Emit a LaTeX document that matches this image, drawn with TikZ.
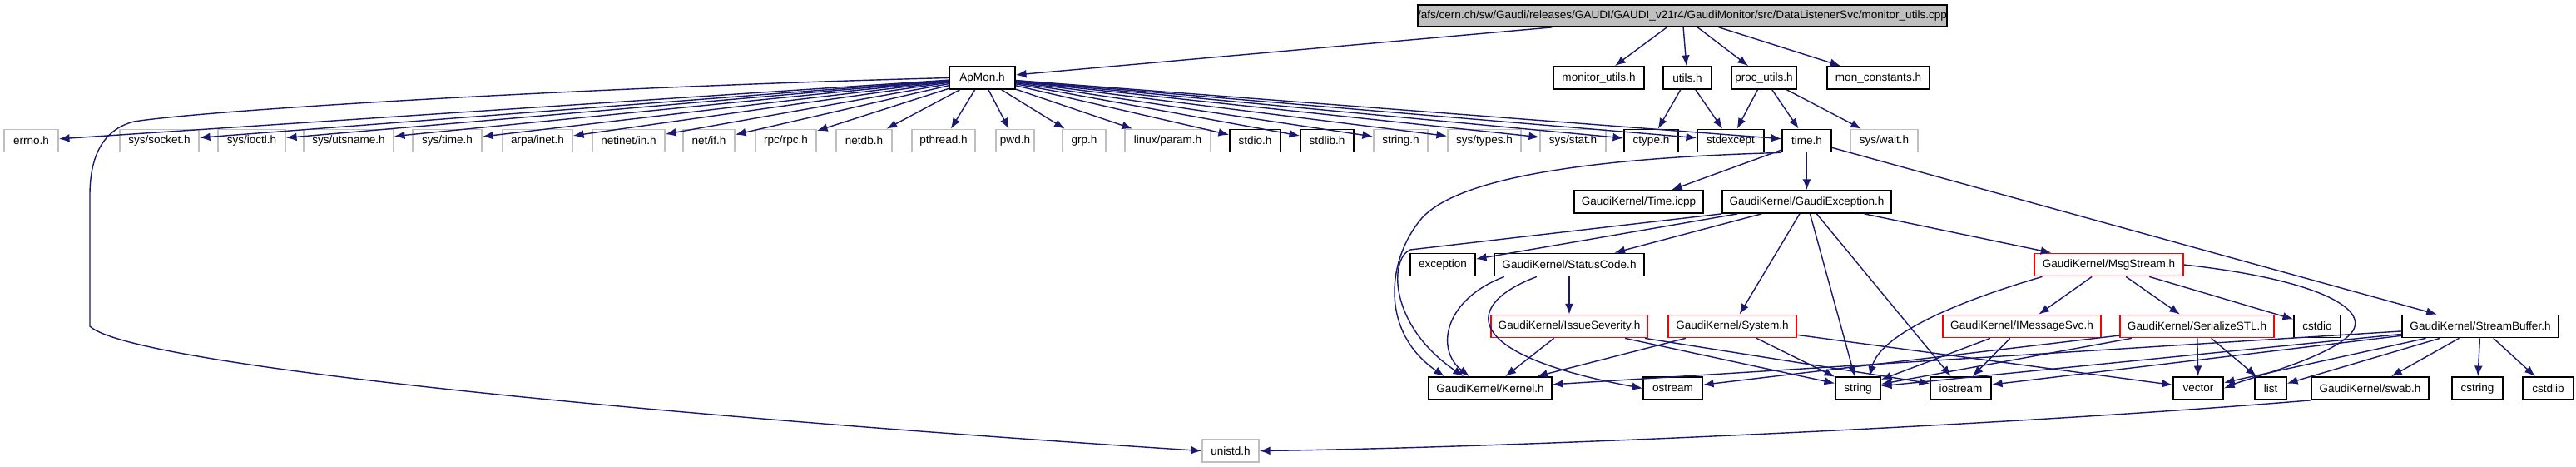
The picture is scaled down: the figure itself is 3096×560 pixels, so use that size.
\documentclass[tikz,border=0pt]{standalone}
\usepackage{fontspec}
\setmainfont{Liberation Sans}
\usetikzlibrary{arrows.meta}
\definecolor{edgeblue}{RGB}{25,25,112}
\definecolor{sysgray}{RGB}{191,191,191}

\tikzset{
  hdr/.style={draw=black, fill=white, line width=0.5pt, minimum height=0.27cm, inner sep=0pt,
    font=\fontsize{3.85}{4.6}\selectfont},
  syshdr/.style={hdr, draw=sysgray},
  trunc/.style={hdr, draw=red},
  rootfile/.style={hdr, fill=sysgray},
  dep/.style={edgeblue, line width=0.4pt, -{Latex[length=3.6pt, width=2.8pt]}},
}

\begin{document}
\begin{tikzpicture}[x=0.01cm, y=-0.01cm]
  \useasboundingbox (0,0) rectangle (3096,560);
  % the file itself
  \node[rootfile, minimum width=6.36cm, minimum height=0.26cm] (root) at (2022,19) {/afs/cern.ch/sw/Gaudi/releases/GAUDI/GAUDI\_v21r4/GaudiMonitor/src/DataListenerSvc/monitor\_utils.cpp};
  % direct includes
  \node[hdr, minimum width=0.79cm] (apmon) at (1180.5,93.5) {ApMon.h};
  \node[hdr, minimum width=1.09cm] (monutils) at (1921.5,93.5) {monitor\_utils.h};
  \node[hdr, minimum width=0.58cm] (utils) at (2028,93.5) {utils.h};
  \node[hdr, minimum width=0.78cm] (procutils) at (2120,93.5) {proc\_utils.h};
  \node[hdr, minimum width=1.23cm] (monconst) at (2257.5,93.5) {mon\_constants.h};
  % system headers
  \node[syshdr, minimum width=0.65cm] (errno) at (37.5,169) {errno.h};
  \node[syshdr, minimum width=0.95cm] (syssocket) at (191.5,169) {sys/socket.h};
  \node[syshdr, minimum width=0.81cm] (sysioctl) at (302.5,169) {sys/ioctl.h};
  \node[syshdr, minimum width=1.08cm] (sysutsname) at (419,169) {sys/utsname.h};
  \node[syshdr, minimum width=0.83cm] (systime) at (537.5,169) {sys/time.h};
  \node[syshdr, minimum width=0.84cm] (arpainet) at (646,169) {arpa/inet.h};
  \node[syshdr, minimum width=0.87cm] (netinetin) at (755.5,169) {netinet/in.h};
  \node[syshdr, minimum width=0.62cm] (netif) at (852,169) {net/if.h};
  \node[syshdr, minimum width=0.73cm] (rpcrpc) at (944.5,169) {rpc/rpc.h};
  \node[syshdr, minimum width=0.67cm] (netdb) at (1038.5,169) {netdb.h};
  \node[syshdr, minimum width=0.76cm] (pthread) at (1134,169) {pthread.h};
  \node[syshdr, minimum width=0.46cm] (pwd) at (1220,169) {pwd.h};
  \node[syshdr, minimum width=0.52cm] (grp) at (1303,169) {grp.h};
  \node[syshdr, minimum width=1.03cm] (linuxparam) at (1403.5,169) {linux/param.h};
  \node[hdr, minimum width=0.61cm] (stdio) at (1508.5,169) {stdio.h};
  \node[hdr, minimum width=0.64cm] (stdlib) at (1595,169) {stdlib.h};
  \node[syshdr, minimum width=0.65cm] (stringh) at (1683.5,169) {string.h};
  \node[syshdr, minimum width=0.88cm] (systypes) at (1784,169) {sys/types.h};
  \node[syshdr, minimum width=0.79cm] (sysstat) at (1890.5,169) {sys/stat.h};
  \node[hdr, minimum width=0.65cm] (ctype) at (1984.5,169) {ctype.h};
  \node[hdr, minimum width=0.80cm] (stdexcept) at (2080,169) {stdexcept};
  \node[hdr, minimum width=0.59cm] (timeh) at (2171.5,169) {time.h};
  \node[syshdr, minimum width=0.81cm] (syswait) at (2264.5,169) {sys/wait.h};
  % GaudiKernel
  \node[hdr, minimum width=1.55cm] (timeicpp) at (1969.5,242.5) {GaudiKernel/Time.icpp};
  \node[hdr, minimum width=2.03cm] (gexc) at (2171.5,242.5) {GaudiKernel/GaudiException.h};
  \node[hdr, minimum width=0.78cm] (exception) at (1734,318) {exception};
  \node[hdr, minimum width=1.80cm] (statuscode) at (1886,318) {GaudiKernel/StatusCode.h};
  \node[trunc, minimum width=1.79cm] (msgstream) at (2534.5,318) {GaudiKernel/MsgStream.h};
  \node[trunc, minimum width=1.88cm] (issuesev) at (1886,392) {GaudiKernel/IssueSeverity.h};
  \node[trunc, minimum width=1.54cm] (system) at (2082,392) {GaudiKernel/System.h};
  \node[trunc, minimum width=1.90cm] (imsgsvc) at (2430,392) {GaudiKernel/IMessageSvc.h};
  \node[trunc, minimum width=1.85cm] (serstl) at (2640.5,392) {GaudiKernel/SerializeSTL.h};
  \node[hdr, minimum width=0.56cm] (cstdio) at (2785,392) {cstdio};
  \node[hdr, minimum width=1.88cm] (sbuf) at (2981,392) {GaudiKernel/StreamBuffer.h};
  \node[hdr, minimum width=1.48cm] (kernel) at (1791,466.5) {GaudiKernel/Kernel.h};
  \node[hdr, minimum width=0.71cm] (ostream) at (2010.5,466.5) {ostream};
  \node[hdr, minimum width=0.54cm] (string) at (2233,466.5) {string};
  \node[hdr, minimum width=0.73cm] (iostream) at (2356.5,466.5) {iostream};
  \node[hdr, minimum width=0.60cm] (vector) at (2642,466.5) {vector};
  \node[hdr, minimum width=0.38cm] (list) at (2729,466.5) {list};
  \node[hdr, minimum width=1.41cm] (swab) at (2848.5,466.5) {GaudiKernel/swab.h};
  \node[hdr, minimum width=0.61cm] (cstring) at (2977.5,466.5) {cstring};
  \node[hdr, minimum width=0.61cm] (cstdlib) at (3062.5,466.5) {cstdlib};
  \node[syshdr, minimum width=0.68cm] (unistd) at (1479,541.5) {unistd.h};

  % from the file
  \draw[dep] (root) -- (apmon);
  \draw[dep] (root) -- (monutils);
  \draw[dep] (root) -- (utils);
  \draw[dep] (root) -- (procutils);
  \draw[dep] (root) -- (monconst);
  % ApMon.h
  \draw[dep] (apmon) -- (errno);
  \draw[dep] (apmon) -- (syssocket);
  \draw[dep] (apmon) -- (sysioctl);
  \draw[dep] (apmon) -- (sysutsname);
  \draw[dep] (apmon) -- (systime);
  \draw[dep] (apmon) -- (arpainet);
  \draw[dep] (apmon) -- (netinetin);
  \draw[dep] (apmon) -- (netif);
  \draw[dep] (apmon) -- (rpcrpc);
  \draw[dep] (apmon) -- (netdb);
  \draw[dep] (apmon) -- (pthread);
  \draw[dep] (apmon) -- (pwd);
  \draw[dep] (apmon) -- (grp);
  \draw[dep] (apmon) -- (linuxparam);
  \draw[dep] (apmon) -- (stdio);
  \draw[dep] (apmon) -- (stdlib);
  \draw[dep] (apmon) -- (stringh);
  \draw[dep] (apmon) -- (systypes);
  \draw[dep] (apmon) -- (sysstat);
  \draw[dep] (apmon) -- (ctype);
  \draw[dep] (apmon) -- (stdexcept);
  \draw[dep] (apmon) -- (timeh);
  \draw[dep] (apmon.west) .. controls (700,105) and (250,132) .. (161,146)
    .. controls (122,156) and (108,190) .. (108,235) -- (108,392)
    .. controls (160,440) and (800,500) .. (unistd.west);
  % utils.h, proc_utils.h
  \draw[dep] (utils) -- (ctype);
  \draw[dep] (utils) -- (stdexcept);
  \draw[dep] (procutils) -- (stdexcept);
  \draw[dep] (procutils) -- (timeh);
  \draw[dep] (procutils) -- (syswait);
  % time.h
  \draw[dep] (timeh) -- (timeicpp);
  \draw[dep] (timeh) -- (gexc);
  \draw[dep] (timeh) -- (sbuf);
  \draw[dep] (timeh.south west) .. controls (1900,190) and (1750,215) .. (1708,263)
    .. controls (1665,315) and (1660,400) .. ([xshift=-0.55cm]kernel.north);
  % GaudiException.h
  \draw[dep] (gexc) -- (exception);
  \draw[dep] (gexc) -- (statuscode);
  \draw[dep] (gexc) -- (system);
  \draw[dep] (gexc) -- (string);
  \draw[dep] (gexc) -- (iostream);
  \draw[dep] (gexc) -- (msgstream);
  \draw[dep] (gexc.south west) -- (1695,300)
    .. controls (1670,310) and (1668,390) .. ([xshift=-0.32cm]kernel.north);
  % StatusCode.h
  \draw[dep] (statuscode) -- (issuesev);
  \draw[dep] ([xshift=-0.78cm]statuscode.south) .. controls (1735,360) and (1725,420) .. ([xshift=-0.25cm]kernel.north);
  \draw[dep] ([xshift=-0.39cm]statuscode.south) .. controls (1760,365) and (1750,425) .. (ostream.west);
  % IssueSeverity.h, System.h, IMessageSvc.h
  \draw[dep] (issuesev) -- (kernel);
  \draw[dep] (issuesev) -- (string);
  \draw[dep] (issuesev) -- (iostream);
  \draw[dep] (system) -- (kernel);
  \draw[dep] (system) -- (string);
  \draw[dep] (system) -- (vector);
  \draw[dep] (imsgsvc) -- (string);
  \draw[dep] (imsgsvc) -- (iostream);
  % MsgStream.h
  \draw[dep] (msgstream) -- (imsgsvc);
  \draw[dep] (msgstream) -- (serstl);
  \draw[dep] (msgstream) -- (cstdio);
  \draw[dep] ([xshift=-0.8cm]msgstream.south) .. controls (2360,360) and (2260,400) .. ([xshift=0.14cm]string.north);
  \draw[dep] (msgstream.east) .. controls (2780,335) and (2850,370) .. (2826,400)
    .. controls (2800,430) and (2700,455) .. (vector.east);
  % SerializeSTL.h
  \draw[dep] (serstl) -- (vector);
  \draw[dep] (serstl) -- (list);
  \draw[dep] (serstl) -- (ostream);
  \draw[dep] (serstl) -- (string);
  % StreamBuffer.h
  \draw[dep] (sbuf) -- (kernel);
  \draw[dep] (sbuf) -- (string);
  \draw[dep] (sbuf) -- (iostream);
  \draw[dep] (sbuf) -- (vector);
  \draw[dep] (sbuf) -- (list);
  \draw[dep] (sbuf) -- (swab);
  \draw[dep] (sbuf) -- (cstring);
  \draw[dep] (sbuf) -- (cstdlib);
  % swab.h
  \draw[dep] (swab.south west) .. controls (2400,512) and (1800,538) .. (unistd.east);
\end{tikzpicture}
\end{document}
